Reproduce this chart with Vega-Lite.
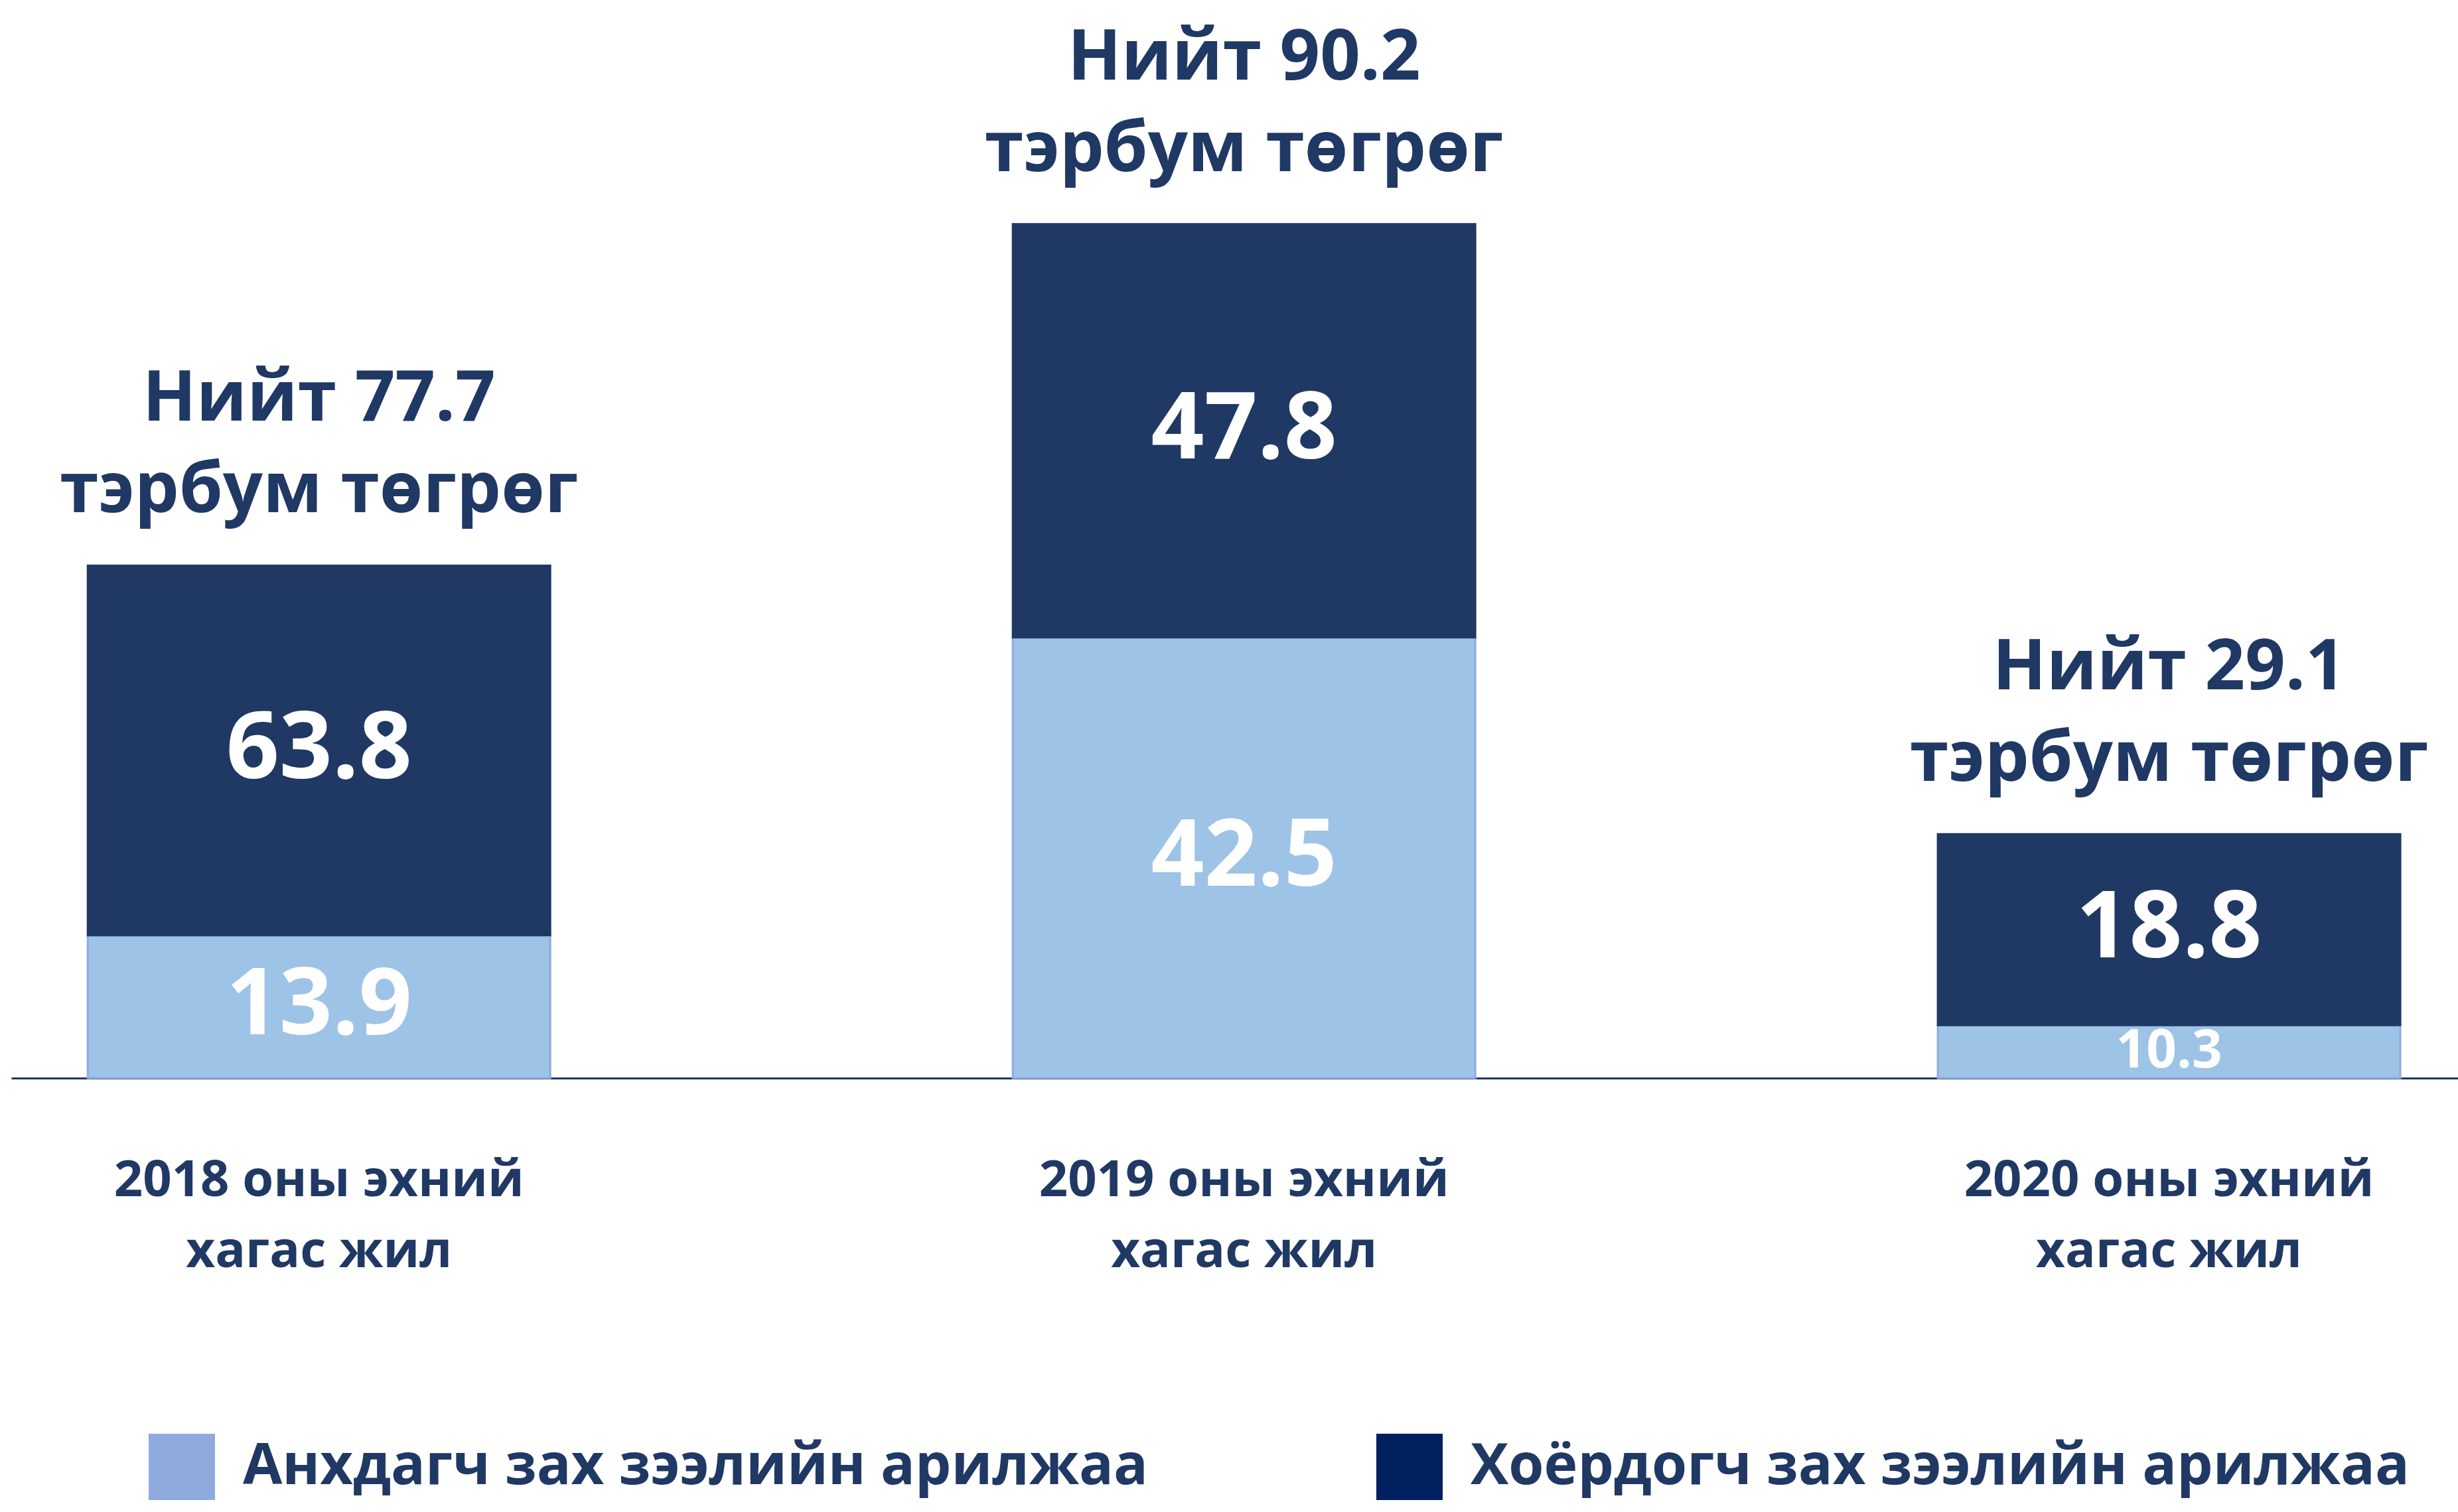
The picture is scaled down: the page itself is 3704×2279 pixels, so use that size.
{
  "$schema": "https://vega.github.io/schema/vega-lite/v6.json",
  "width": 3687,
  "height": 1625,
  "padding": {"left": 17, "top": 0, "right": 0, "bottom": 0},
  "autosize": {"type": "pad"},
  "background": "white",
  "config": {"view": {"stroke": null}, "font": "Open Sans"},
  "datasets": {
    "segments": [
      {"period": "2018 оны эхний хагас жил", "segment": "Анхдагч зах зээлийн арилжаа", "value": 13.9, "bar_value": 15.1},
      {"period": "2018 оны эхний хагас жил", "segment": "Хоёрдогч зах зээлийн арилжаа", "value": 63.8, "bar_value": 39.1},
      {"period": "2019 оны эхний хагас жил", "segment": "Анхдагч зах зээлийн арилжаа", "value": 42.5, "bar_value": 46.6},
      {"period": "2019 оны эхний хагас жил", "segment": "Хоёрдогч зах зээлийн арилжаа", "value": 47.8, "bar_value": 43.7},
      {"period": "2020 оны эхний хагас жил", "segment": "Анхдагч зах зээлийн арилжаа", "value": 10.3, "bar_value": 5.6},
      {"period": "2020 оны эхний хагас жил", "segment": "Хоёрдогч зах зээлийн арилжаа", "value": 18.8, "bar_value": 20.2}
    ],
    "totals": [
      {"period": "2018 оны эхний хагас жил", "total_text": "Нийт 77.7"},
      {"period": "2019 оны эхний хагас жил", "total_text": "Нийт 90.2"},
      {"period": "2020 оны эхний хагас жил", "total_text": "Нийт 29.1"}
    ]
  },
  "data": {"name": "segments"},
  "resolve": {"scale": {"color": "independent"}},
  "encoding": {
    "x": {
      "field": "period",
      "type": "nominal",
      "sort": null,
      "scale": {"paddingInner": 0.5, "paddingOuter": 0.0725, "align": 0.57},
      "axis": {
        "title": null,
        "domain": true,
        "domainColor": "#1F3864",
        "domainWidth": 3,
        "ticks": false,
        "grid": false,
        "labelAngle": 0,
        "labelFont": "Open Sans",
        "labelFontWeight": "bold",
        "labelFontSize": 76,
        "labelColor": "#203864",
        "labelPadding": 117,
        "labelLineHeight": 107,
        "labelLimit": 0,
        "labelOverlap": false,
        "labelBound": false,
        "labelBaseline": "top",
        "labelExpr": "[substring(datum.label,0,14), substring(datum.label,15)]"
      }
    }
  },
  "layer": [
    {
      "mark": {"type": "bar", "strokeWidth": 3},
      "encoding": {
        "y": {"field": "bar_value", "type": "quantitative", "stack": "zero", "scale": {"domain": [0, 114], "nice": false, "zero": true}, "axis": null},
        "order": {"field": "segment", "type": "ordinal", "sort": "ascending"},
        "color": {
          "field": "segment",
          "type": "nominal",
          "scale": {"domain": ["Анхдагч зах зээлийн арилжаа", "Хоёрдогч зах зээлийн арилжаа"], "range": ["#9DC3E6", "#203864"]},
          "legend": null
        },
        "stroke": {
          "condition": {"test": "datum.segment === 'Анхдагч зах зээлийн арилжаа'", "value": "#8FAADC"},
          "value": "#203864"
        }
      }
    },
    {
      "transform": [
        {"stack": "bar_value", "groupby": ["period"], "sort": [{"field": "segment", "order": "ascending"}], "as": ["v0", "v1"]},
        {"fold": ["v0", "v1"], "as": ["edge", "pos"]},
        {"aggregate": [{"op": "mean", "field": "pos", "as": "mid"}], "groupby": ["period", "segment", "value"]}
      ],
      "mark": {"type": "text", "font": "Open Sans", "fontWeight": "bold", "color": "white", "baseline": "middle", "align": "center"},
      "encoding": {
        "y": {"field": "mid", "type": "quantitative"},
        "text": {"field": "value", "type": "quantitative", "format": ".1f"},
        "size": {"condition": {"test": "datum.value < 11", "value": 80}, "value": 140}
      }
    },
    {
      "transform": [
        {"aggregate": [{"op": "sum", "field": "bar_value", "as": "bar_top"}], "groupby": ["period"]},
        {"lookup": "period", "from": {"data": {"name": "totals"}, "key": "period", "fields": ["total_text"]}}
      ],
      "mark": {"type": "text", "font": "Open Sans", "fontWeight": "bold", "fontSize": 106, "color": "#203864", "baseline": "middle", "align": "center", "dy": -250},
      "encoding": {
        "y": {"field": "bar_top", "type": "quantitative"},
        "text": {"field": "total_text", "type": "nominal"}
      }
    },
    {
      "transform": [
        {"aggregate": [{"op": "sum", "field": "bar_value", "as": "bar_top"}], "groupby": ["period"]}
      ],
      "mark": {"type": "text", "font": "Open Sans", "fontWeight": "bold", "fontSize": 106, "color": "#203864", "baseline": "middle", "align": "center", "dy": -112},
      "encoding": {
        "y": {"field": "bar_top", "type": "quantitative"},
        "text": {"value": "тэрбум төгрөг"}
      }
    },
    {
      "mark": {"type": "square", "opacity": 0, "filled": true},
      "encoding": {
        "color": {
          "field": "segment",
          "type": "nominal",
          "scale": {"domain": ["Анхдагч зах зээлийн арилжаа", "Хоёрдогч зах зээлийн арилжаа"], "range": ["#8FAADC", "#002060"]},
          "legend": {
            "orient": "none",
            "legendX": 207,
            "legendY": 2161,
            "direction": "horizontal",
            "title": null,
            "symbolType": "square",
            "symbolSize": 10000,
            "symbolStrokeWidth": 0,
            "symbolOpacity": 1,
            "labelFont": "Open Sans",
            "labelFontWeight": "bold",
            "labelFontSize": 86,
            "labelColor": "#203864",
            "labelOffset": 42,
            "labelLimit": 3000,
            "columnPadding": 344,
            "padding": 0
          }
        }
      }
    }
  ]
}
